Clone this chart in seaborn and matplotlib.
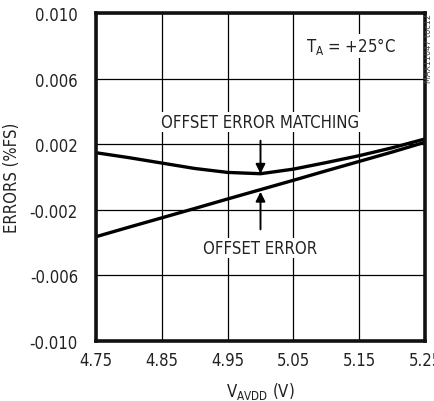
import numpy as np
import pandas as pd
import seaborn as sns
import matplotlib.pyplot as plt
from matplotlib import font_manager

# supply voltage (V)
vavdd = [4.75, 4.80, 4.85, 4.90, 4.95, 5.00, 5.05, 5.10, 5.15, 5.20, 5.25]
# errors in %FS
offset_matching = [0.00148, 0.00118, 0.00085, 0.00052, 0.00028, 0.00020, 0.00048, 0.00088, 0.00130, 0.00178, 0.00232]
offset_error = [-0.00364, -0.00306, -0.00249, -0.00192, -0.00134, -0.00077, -0.00020, 0.00038, 0.00095, 0.00152, 0.00212]

xticks = [4.75, 4.85, 4.95, 5.05, 5.15, 5.25]
yticks = [0.010, 0.006, 0.002, -0.002, -0.006, -0.010]
ytick_labels = ['0.010', '0.006', '0.002', '-0.002', '-0.006', '-0.010']

df = pd.DataFrame({
    'v': vavdd * 2,
    'err': offset_matching + offset_error,
    'curve': ['OFFSET ERROR MATCHING'] * len(vavdd) + ['OFFSET ERROR'] * len(vavdd),
})

sns.set_style('white')

# look for a narrow face, the original uses a condensed sans
fonts = font_manager.fontManager.ttflist
narrow = [f for f in fonts if 'Narrow' in f.name or 'Condensed' in f.name
          or f.stretch in ('condensed', 'semi-condensed', 'extra-condensed', 'ultra-condensed')]
if narrow:
    fam = narrow[0].name
    stretch = narrow[0].stretch
    fs = 12
else:
    fam = 'DejaVu Sans'
    stretch = 'normal'
    fs = 10.5
plt.rcParams['font.family'] = [fam, 'DejaVu Sans']
plt.rcParams['font.stretch'] = stretch

fig = plt.figure(figsize=(4.35, 4.02), dpi=100)
ax = fig.add_axes([96 / 435, 1 - 342 / 402, 329 / 435, 328 / 402])

sns.lineplot(data=df, x='v', y='err', hue='curve', palette=['black', 'black'],
             linewidth=2.4, legend=False, ax=ax)

ax.set_xlim(4.75, 5.25)
ax.set_ylim(-0.010, 0.010)
ax.set_xticks(xticks)
ax.set_xticklabels([f'{t:.2f}' for t in xticks])
ax.set_yticks(yticks)
ax.set_yticklabels(ytick_labels)
ax.tick_params(length=0, labelsize=fs, colors='#222222')
ax.tick_params(axis='x', pad=7)
ax.tick_params(axis='y', pad=13)
ax.grid(True, color='black', linewidth=0.9)
for s in ax.spines.values():
    s.set_linewidth(2.6)
    s.set_color('#111111')

ax.set_xlabel(r'V$_{\mathregular{AVDD}}$ (V)', fontsize=fs, labelpad=8, color='#222222')
ax.set_ylabel('ERRORS (%FS)', fontsize=fs, labelpad=6, color='#222222')

# annotations
ax.annotate('OFFSET ERROR MATCHING', xy=(5.0, 0.00020), xytext=(5.0, 0.00335),
            ha='center', va='center', fontsize=fs, color='#222222',
            bbox=dict(fc='white', ec='none', pad=1),
            arrowprops=dict(arrowstyle='-|>', color='black', lw=1.4, mutation_scale=14,
                            shrinkA=6, shrinkB=0))
ax.annotate('OFFSET ERROR', xy=(5.0, -0.00090), xytext=(5.0, -0.00433),
            ha='center', va='center', fontsize=fs, color='#222222',
            bbox=dict(fc='white', ec='none', pad=1),
            arrowprops=dict(arrowstyle='-|>', color='black', lw=1.4, mutation_scale=14,
                            shrinkA=6, shrinkB=0))

ax.text(0.91, 0.90, r'T$_{\mathregular{A}}$ = +25°C', transform=ax.transAxes,
        ha='right', va='center', fontsize=fs, color='#222222',
        bbox=dict(fc='white', ec='none', pad=1))

fig.text(0.986, 0.965, 'MAX11047 toc12', rotation=90, ha='center', va='top',
         fontsize=6.5, color='#444444')

fig.savefig('out.png', dpi=100)
